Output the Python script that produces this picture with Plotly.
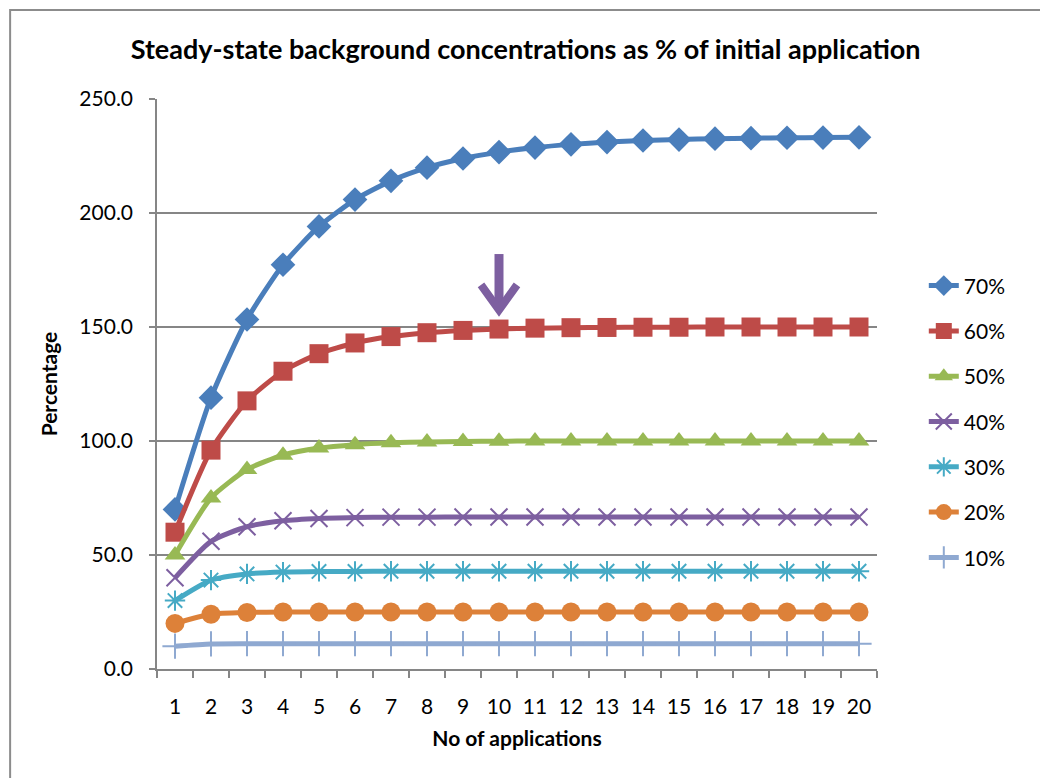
import plotly.graph_objects as go

applications = list(range(1, 21))
tick_labels = [str(i) for i in applications]

s70 = [70.0, 119.0, 153.3, 177.3, 194.1, 205.9, 214.1, 219.9, 223.9, 226.7,
       228.7, 230.1, 231.1, 231.8, 232.2, 232.6, 232.8, 233.0, 233.1, 233.2]
s60 = [60.0, 96.0, 117.6, 130.6, 138.3, 143.0, 145.8, 147.5, 148.5, 149.1,
       149.5, 149.7, 149.8, 149.9, 149.9, 150.0, 150.0, 150.0, 150.0, 150.0]
s50 = [50.0, 75.0, 87.5, 93.8, 96.9, 98.4, 99.2, 99.6, 99.8, 99.9,
       100.0, 100.0, 100.0, 100.0, 100.0, 100.0, 100.0, 100.0, 100.0, 100.0]
s40 = [40.0, 56.0, 62.4, 65.0, 66.0, 66.4, 66.6, 66.6, 66.7, 66.7,
       66.7, 66.7, 66.7, 66.7, 66.7, 66.7, 66.7, 66.7, 66.7, 66.7]
s30 = [30.0, 39.0, 41.7, 42.5, 42.8, 42.8, 42.9, 42.9, 42.9, 42.9,
       42.9, 42.9, 42.9, 42.9, 42.9, 42.9, 42.9, 42.9, 42.9, 42.9]
s20 = [20.0, 24.0, 24.8, 25.0, 25.0, 25.0, 25.0, 25.0, 25.0, 25.0,
       25.0, 25.0, 25.0, 25.0, 25.0, 25.0, 25.0, 25.0, 25.0, 25.0]
s10 = [10.0, 11.0, 11.1, 11.1, 11.1, 11.1, 11.1, 11.1, 11.1, 11.1,
       11.1, 11.1, 11.1, 11.1, 11.1, 11.1, 11.1, 11.1, 11.1, 11.1]

series_names = ["70%", "60%", "50%", "40%", "30%", "20%", "10%"]
series_values = [s70, s60, s50, s40, s30, s20, s10]
colors = ["#4A7EBB", "#BE4B48", "#98B954", "#7D5FA0", "#46AAC5", "#DD8139", "#8FA9D1"]
symbols = ["diamond", "square", "triangle-up", "x-thin", "asterisk-open", "circle", "cross-thin"]
sizes = [19, 19, 18, 17, 17, 19, 18]

FONT = "Lato"
ARROW_COLOR = "#7D5FA0"

fig = go.Figure()
for name, vals, col, sym, sz in zip(series_names, series_values, colors, symbols, sizes):
    thin = sym in ("x-thin", "asterisk-open", "cross-thin")
    fig.add_trace(go.Scatter(
        x=applications, y=vals, name=name, mode="lines+markers",
        line=dict(color=col, width=5, shape="spline", smoothing=0.6),
        marker=dict(symbol=sym, size=sz, color=col,
                    line=dict(color=col, width=2 if thin else 0)),
        legendgroup=name,
    ))

# purple arrow pointing at application 10 of the 60% series
fig.add_shape(type="line", xref="x", yref="y", x0=10, x1=10, y0=182, y1=159,
              line=dict(color=ARROW_COLOR, width=9))
fig.add_shape(type="path", xref="x", yref="y", path="M 9.5,168.5 L 10,157.5 L 10.5,168.5",
              line=dict(color=ARROW_COLOR, width=8))

fig.add_shape(type="rect", xref="paper", yref="paper",
              x0=-0.204, x1=1.4, y0=-0.5, y1=1.156,
              line=dict(color="#8C8C8C", width=2), fillcolor="rgba(0,0,0,0)", layer="below")

fig.update_layout(
    width=1040, height=778,
    margin=dict(l=157, r=163, t=99, b=109),
    paper_bgcolor="white", plot_bgcolor="white",
    font=dict(family=FONT, size=21, color="#000000"),
    title=dict(text="<b>Steady-state background concentrations as % of initial application</b>",
               x=0.512, xref="paper", xanchor="center", y=0.936, yref="container", yanchor="middle",
               font=dict(family=FONT, size=27, color="#000000")),
    showlegend=True,
    legend=dict(x=1.065, xanchor="left", y=0.708, yanchor="top",
                font=dict(family=FONT, size=21), traceorder="grouped",
                tracegroupgap=15, bgcolor="rgba(0,0,0,0)"),
    xaxis=dict(
        range=[0.5, 20.5], tickmode="array", tickvals=applications, ticktext=tick_labels,
        showgrid=False, zeroline=False, showline=True, linecolor="#868686", linewidth=1.5,
        ticks="", ticklabelstandoff=18,
        minor=dict(tick0=0.5, dtick=1, ticks="outside", ticklen=7, tickcolor="#868686", tickwidth=1.5, showgrid=False),
        title=dict(text="<b>No of applications</b>", font=dict(family=FONT, size=21), standoff=14),
        tickfont=dict(family=FONT, size=21),
    ),
    yaxis=dict(
        range=[0, 250], tickmode="array", tickvals=[0, 50, 100, 150, 200, 250], tickformat=".1f",
        showgrid=True, gridcolor="#868686", gridwidth=1.5, zeroline=False,
        showline=True, linecolor="#868686", linewidth=1.5,
        ticks="outside", ticklen=6, tickcolor="#868686", tickwidth=1.5, ticklabelstandoff=12,
        title=dict(text="<b>Percentage</b>", font=dict(family=FONT, size=21), standoff=16),
        tickfont=dict(family=FONT, size=21),
    ),
)

fig.write_html("out.html")
